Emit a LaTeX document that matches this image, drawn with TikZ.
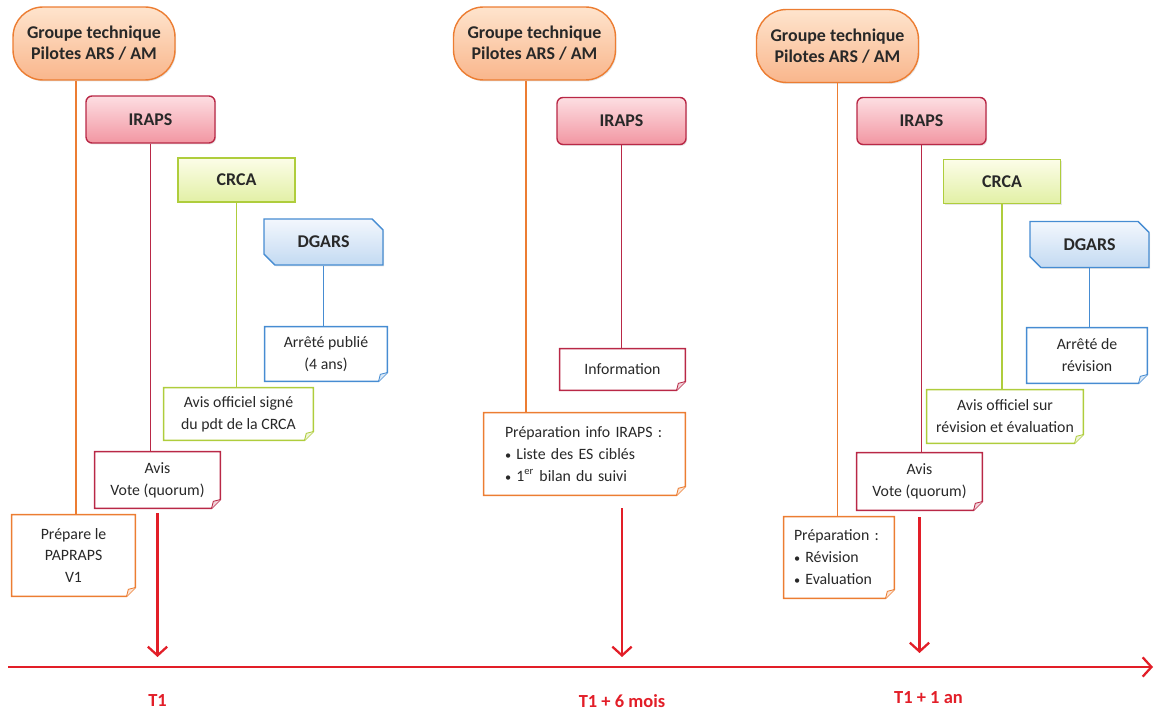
\documentclass[tikz,border=0pt]{standalone}
\usepackage{fontspec}
\setmainfont{Carlito}
\usepackage{tikz}
\usetikzlibrary{positioning,arrows.meta,shapes.misc,shadows}

\definecolor{grpline}{RGB}{236,125,50}
\definecolor{grptop}{RGB}{254,228,205}
\definecolor{grpbot}{RGB}{249,182,140}
\definecolor{irpline}{RGB}{185,40,70}
\definecolor{irptop}{RGB}{253,222,226}
\definecolor{irpbot}{RGB}{242,150,162}
\definecolor{crcline}{RGB}{175,205,60}
\definecolor{crctop}{RGB}{252,253,232}
\definecolor{crcbot}{RGB}{226,240,165}
\definecolor{dgaline}{RGB}{70,140,210}
\definecolor{dgatop}{RGB}{243,247,253}
\definecolor{dgabot}{RGB}{195,218,242}
\definecolor{tlred}{RGB}{226,30,40}
\definecolor{txtgray}{RGB}{40,40,40}

\tikzset{
  titlebox/.style={draw, line width=0.8pt, text=txtgray, font=\fontsize{10.2}{12}\selectfont\bfseries, align=center,
    drop shadow={opacity=0.2, shadow xshift=0.6pt, shadow yshift=-0.8pt}},
  grpbox/.style={titlebox, draw=grpline, top color=grptop, bottom color=grpbot, rounded corners=0.6cm,
    minimum width=3.24cm, minimum height=1.46cm},
  irpbox/.style={titlebox, draw=irpline, top color=irptop, bottom color=irpbot, rounded corners=0.12cm,
    minimum width=2.58cm, minimum height=0.94cm},
  crcbox/.style={titlebox, draw=crcline, top color=crctop, bottom color=crcbot,
    minimum width=2.34cm, minimum height=0.88cm},
  dgabox/.style={titlebox, draw=dgaline, top color=dgatop, bottom color=dgabot, chamfered rectangle,
    chamfered rectangle corners={north east,south west}, chamfered rectangle xsep=3pt,
    minimum width=2.38cm, minimum height=0.92cm},
  notebox/.style={text=txtgray, font=\fontsize{9}{12.5}\selectfont, align=center, inner sep=3pt},
  link/.style={line width=0.8pt},
  redarrow/.style={draw=tlred, line width=1.3pt, -{Straight Barb[length=5pt,width=11pt]}},
  datelbl/.style={text=tlred, font=\fontsize{10.5}{12}\selectfont\bfseries}
}
\newcommand{\puce}{{\scriptsize\textbullet}\ }

\begin{document}
\begin{tikzpicture}[x=0.02cm, y=-0.02cm]
\useasboundingbox (0,0) rectangle (1154,712);

% T1
\node[grpbox] (grp1) at (94,43.5) {Groupe technique\\Pilotes ARS / AM};
\node[irpbox] (irp1) at (150.5,119.5) {IRAPS};
\node[crcbox] (crc1) at (236.5,180) {CRCA};
\node[dgabox] (dga1) at (323.5,242) {DGARS};
\node[notebox, minimum width=2.44cm, minimum height=1.08cm] (arr1) at (326,354) {Arrêté publié\\(4 ans)};
\node[notebox, minimum width=2.98cm, minimum height=1.04cm] (off1) at (238.5,414) {Avis officiel signé\\du pdt de la CRCA};
\node[notebox, minimum width=2.5cm, minimum height=1.12cm] (avis1) at (157.5,480) {Avis\\Vote (quorum)};
\node[notebox, minimum width=2.46cm, minimum height=1.62cm] (prep1) at (73.5,555.5) {Prépare le\\PAPRAPS\\V1};

\coordinate (g1x) at ([xshift=-0.36cm]grp1.south);
\draw[link, grpline] (g1x) -- (g1x |- prep1.north);
\draw[link, irpline] (irp1.south) -- (irp1.south |- avis1.north);
\draw[link, crcline] (crc1.south) -- (crc1.south |- off1.north);
\draw[link, dgaline] (dga1.south) -- (dga1.south |- arr1.north);

% T1 + 6 mois
\node[grpbox] (grp2) at (534.5,43.5) {Groupe technique\\Pilotes ARS / AM};
\node[irpbox] (irp2) at (621.5,121) {IRAPS};
\node[notebox, minimum width=2.5cm, minimum height=0.82cm] (info2) at (622.5,369.5) {Information};
\node[notebox, align=left, text width=3.18cm, inner xsep=0.42cm, minimum height=1.64cm] (prep2) at (584.5,454)
  {Préparation info IRAPS :\\\puce Liste des ES ciblés\\\puce 1\textsuperscript{er} bilan du suivi};

\coordinate (g2x) at ([xshift=-0.17cm]grp2.south);
\draw[link, grpline] (g2x) -- (g2x |- prep2.north);
\draw[link, irpline] (irp2.south) -- (irp2.south |- info2.north);

% T1 + 1 an
\node[grpbox] (grp3) at (837.5,46) {Groupe technique\\Pilotes ARS / AM};
\node[irpbox] (irp3) at (921.5,121) {IRAPS};
\node[crcbox] (crc3) at (1002,181.5) {CRCA};
\node[dgabox] (dga3) at (1089.5,244.5) {DGARS};
\node[notebox, minimum width=2.4cm, minimum height=1.1cm] (arr3) at (1087,355.5) {Arrêté de\\révision};
\node[notebox, minimum width=3.12cm, minimum height=1.06cm] (off3) at (1005,416.5) {Avis officiel sur\\révision et évaluation};
\node[notebox, minimum width=2.5cm, minimum height=1.14cm] (avis3) at (919.5,481.5) {Avis\\Vote (quorum)};
\node[notebox, align=left, text width=1.8cm, inner xsep=0.2cm, minimum height=1.62cm] (prep3) at (839,557.5)
  {Préparation :\\\puce Révision\\\puce Evaluation};

\draw[link, grpline] (grp3.south) -- (grp3.south |- prep3.north);
\draw[link, irpline] (irp3.south) -- (irp3.south |- avis3.north);
\draw[link, crcline] (crc3.south) -- (crc3.south |- off3.north);
\draw[link, dgaline] (dga3.south) -- (dga3.south |- arr3.north);

% notes with folded corner
\foreach \n/\c in {prep1/grpline, avis1/irpline, off1/crcline, arr1/dgaline,
                   prep2/grpline, info2/irpline,
                   prep3/grpline, avis3/irpline, off3/crcline, arr3/dgaline}{
  \draw[link, draw=\c] (\n.north west) -- (\n.north east) -- ([yshift=5pt]\n.south east)
    -- ([xshift=-5pt]\n.south east) -- (\n.south west) -- cycle;
  \draw[line width=0.5pt, draw=\c, fill=\c!20] ([xshift=-5pt]\n.south east)
    -- ([xshift=-4pt,yshift=4pt]\n.south east) -- ([yshift=5pt]\n.south east);
}

% timeline
\coordinate (tl0) at (8,667);
\coordinate (tl1) at (1153,667);
\draw[redarrow] (tl0) -- (tl1);
\coordinate (t1) at (avis1.south |- tl0);
\coordinate (t2) at (622,667);
\coordinate (t3) at (avis3.south |- tl0);
\draw[redarrow] ([yshift=-0.1cm]avis1.south) -- ([yshift=0.2cm]t1);
\draw[redarrow] ([yshift=3.18cm]t2) -- ([yshift=0.2cm]t2);
\draw[redarrow] ([yshift=-0.14cm]avis3.south) -- ([yshift=0.28cm]t3);

\node[datelbl, below=0.42cm of t1] (d1) {T1};
\node[datelbl, below=0.42cm of t2] (d2) {T1 + 6 mois};
\node[datelbl, below=0.36cm of t3, xshift=0.18cm] (d3) {T1 + 1 an};
\end{tikzpicture}
\end{document}
